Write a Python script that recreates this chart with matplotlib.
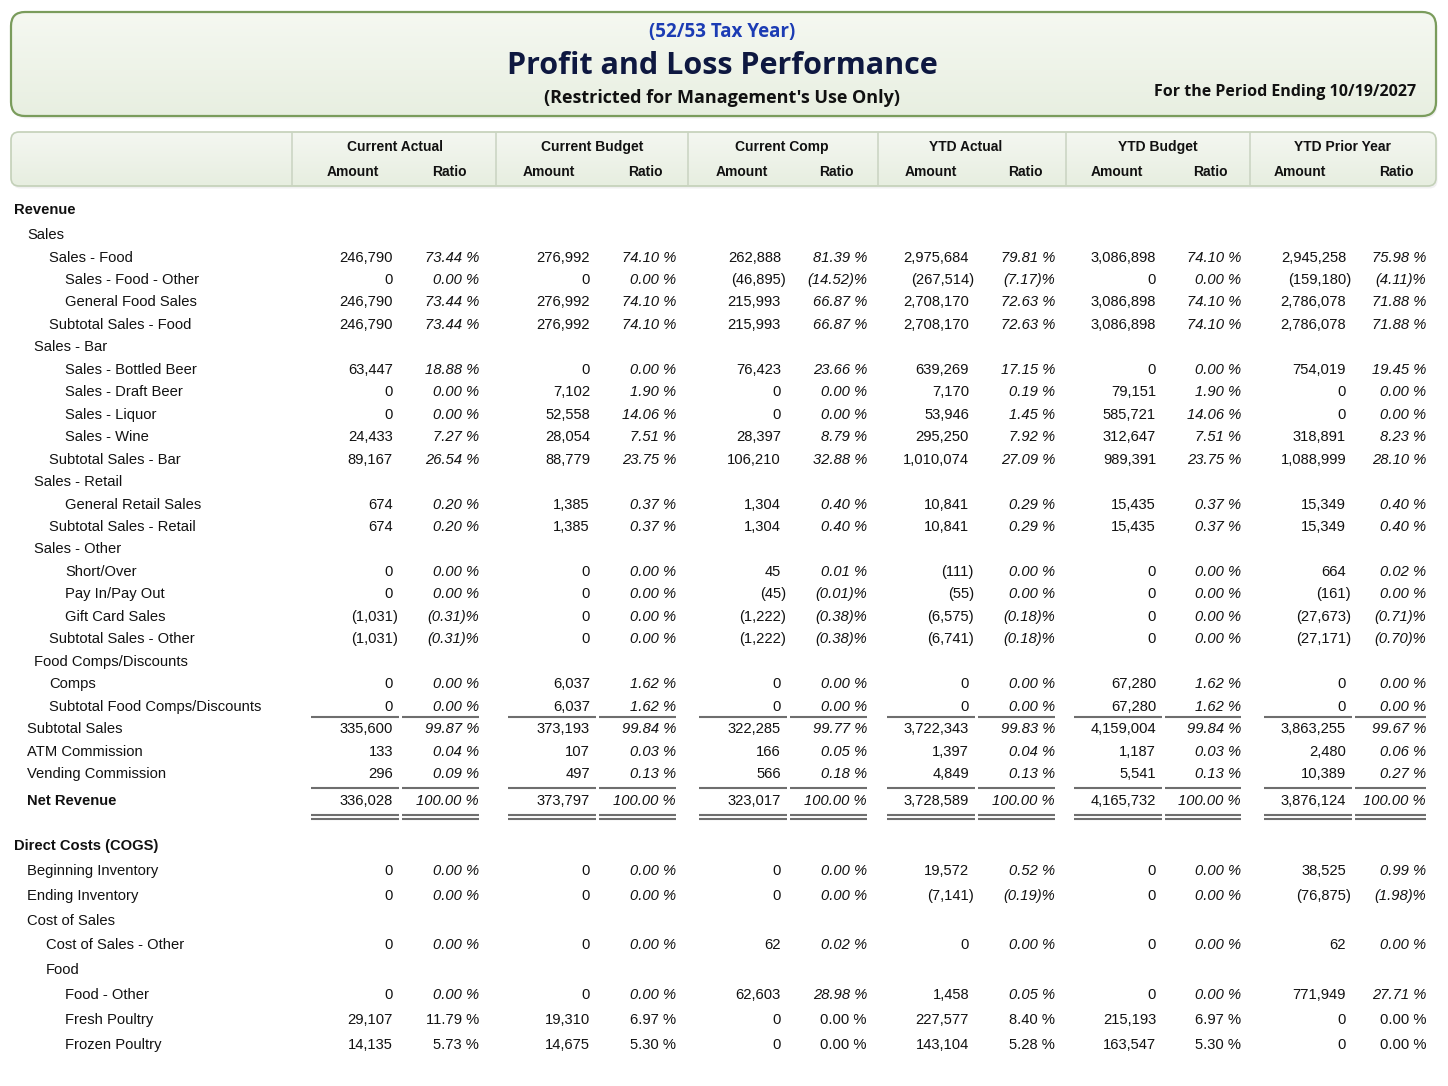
import matplotlib
matplotlib.use("Agg")
import matplotlib.pyplot as plt
from matplotlib.patches import FancyBboxPatch
import numpy as np

# ---------------- data ----------------
N = None

labels = [
    "Revenue", "Sales", "Sales - Food", "Sales - Food - Other", "General Food Sales",
    "Subtotal Sales - Food", "Sales - Bar", "Sales - Bottled Beer", "Sales - Draft Beer",
    "Sales - Liquor", "Sales - Wine", "Subtotal Sales - Bar", "Sales - Retail",
    "General Retail Sales", "Subtotal Sales - Retail", "Sales - Other", "Short/Over",
    "Pay In/Pay Out", "Gift Card Sales", "Subtotal Sales - Other", "Food Comps/Discounts",
    "Comps", "Subtotal Food Comps/Discounts", "Subtotal Sales", "ATM Commission",
    "Vending Commission", "Net Revenue", "Direct Costs (COGS)", "Beginning Inventory",
    "Ending Inventory", "Cost of Sales", "Cost of Sales - Other", "Food", "Food - Other",
    "Fresh Poultry", "Frozen Poultry",
]
levels = [0, 1, 3, 4, 4, 3, 2, 4, 4, 4, 4, 3, 2, 4, 3, 2, 4, 4, 4, 3, 2, 3, 3,
          1, 1, 1, 1, 0, 1, 1, 1, 5, 5, 4, 4, 4]
bold_rows = ["Revenue", "Net Revenue", "Direct Costs (COGS)"]
upright_ratio_rows = ["Fresh Poultry", "Frozen Poultry"]

group_titles = ["Current Actual", "Current Budget", "Current Comp",
                "YTD Actual", "YTD Budget", "YTD Prior Year"]

ca_amt = [N, N, 246790, 0, 246790, 246790, N, 63447, 0, 0, 24433, 89167, N, 674, 674, N,
          0, 0, -1031, -1031, N, 0, 0, 335600, 133, 296, 336028, N, 0, 0, N, 0, N, 0, 29107, 14135]
ca_pct = [N, N, 73.44, 0.00, 73.44, 73.44, N, 18.88, 0.00, 0.00, 7.27, 26.54, N, 0.20, 0.20, N,
          0.00, 0.00, -0.31, -0.31, N, 0.00, 0.00, 99.87, 0.04, 0.09, 100.00, N, 0.00, 0.00, N,
          0.00, N, 0.00, 11.79, 5.73]
cb_amt = [N, N, 276992, 0, 276992, 276992, N, 0, 7102, 52558, 28054, 88779, N, 1385, 1385, N,
          0, 0, 0, 0, N, 6037, 6037, 373193, 107, 497, 373797, N, 0, 0, N, 0, N, 0, 19310, 14675]
cb_pct = [N, N, 74.10, 0.00, 74.10, 74.10, N, 0.00, 1.90, 14.06, 7.51, 23.75, N, 0.37, 0.37, N,
          0.00, 0.00, 0.00, 0.00, N, 1.62, 1.62, 99.84, 0.03, 0.13, 100.00, N, 0.00, 0.00, N,
          0.00, N, 0.00, 6.97, 5.30]
cc_amt = [N, N, 262888, -46895, 215993, 215993, N, 76423, 0, 0, 28397, 106210, N, 1304, 1304, N,
          45, -45, -1222, -1222, N, 0, 0, 322285, 166, 566, 323017, N, 0, 0, N, 62, N, 62603, 0, 0]
cc_pct = [N, N, 81.39, -14.52, 66.87, 66.87, N, 23.66, 0.00, 0.00, 8.79, 32.88, N, 0.40, 0.40, N,
          0.01, -0.01, -0.38, -0.38, N, 0.00, 0.00, 99.77, 0.05, 0.18, 100.00, N, 0.00, 0.00, N,
          0.02, N, 28.98, 0.00, 0.00]
ya_amt = [N, N, 2975684, -267514, 2708170, 2708170, N, 639269, 7170, 53946, 295250, 1010074, N,
          10841, 10841, N, -111, -55, -6575, -6741, N, 0, 0, 3722343, 1397, 4849, 3728589, N,
          19572, -7141, N, 0, N, 1458, 227577, 143104]
ya_pct = [N, N, 79.81, -7.17, 72.63, 72.63, N, 17.15, 0.19, 1.45, 7.92, 27.09, N, 0.29, 0.29, N,
          0.00, 0.00, -0.18, -0.18, N, 0.00, 0.00, 99.83, 0.04, 0.13, 100.00, N, 0.52, -0.19, N,
          0.00, N, 0.05, 8.40, 5.28]
yb_amt = [N, N, 3086898, 0, 3086898, 3086898, N, 0, 79151, 585721, 312647, 989391, N, 15435,
          15435, N, 0, 0, 0, 0, N, 67280, 67280, 4159004, 1187, 5541, 4165732, N, 0, 0, N, 0, N,
          0, 215193, 163547]
yb_pct = [N, N, 74.10, 0.00, 74.10, 74.10, N, 0.00, 1.90, 14.06, 7.51, 23.75, N, 0.37, 0.37, N,
          0.00, 0.00, 0.00, 0.00, N, 1.62, 1.62, 99.84, 0.03, 0.13, 100.00, N, 0.00, 0.00, N,
          0.00, N, 0.00, 6.97, 5.30]
yp_amt = [N, N, 2945258, -159180, 2786078, 2786078, N, 754019, 0, 0, 318891, 1088999, N, 15349,
          15349, N, 664, -161, -27673, -27171, N, 0, 0, 3863255, 2480, 10389, 3876124, N, 38525,
          -76875, N, 62, N, 771949, 0, 0]
yp_pct = [N, N, 75.98, -4.11, 71.88, 71.88, N, 19.45, 0.00, 0.00, 8.23, 28.10, N, 0.40, 0.40, N,
          0.02, 0.00, -0.71, -0.70, N, 0.00, 0.00, 99.67, 0.06, 0.27, 100.00, N, 0.99, -1.98, N,
          0.00, N, 27.71, 0.00, 0.00]

columns = [(ca_amt, ca_pct), (cb_amt, cb_pct), (cc_amt, cc_pct),
           (ya_amt, ya_pct), (yb_amt, yb_pct), (yp_amt, yp_pct)]

# ---------------- layout ----------------
W, H = 1448, 1086
amt_right = [393, 590, 781, 969, 1156, 1346]
pct_right = [479, 676, 867, 1055, 1241, 1426]
group_cx = [395, 592, 782, 966, 1158, 1343]
amt_cx = [353, 549, 742, 931, 1117, 1300]
pct_cx = [449, 645, 836, 1025, 1210, 1396]
separators = [292, 496, 688, 878, 1066, 1250]
indent = {0: 14, 1: 27, 2: 34, 3: 49, 4: 65, 5: 46}

BODY = "Liberation Sans"
TITLE = "Open Sans"
FS = 10.6
DY = 1.2  # baseline nudge for body text


def fmt_amt(v):
    return f"({abs(v):,})" if v < 0 else f"{v:,}"


def fmt_pct(v):
    return f"({abs(v):.2f})%" if v < 0 else f"{v:.2f} %"


fig = plt.figure(figsize=(W / 100, H / 100), dpi=100)
ax = fig.add_axes([0, 0, 1, 1])
ax.set_xlim(0, W)
ax.set_ylim(H, 0)
ax.axis("off")


def gradient_box(x0, y0, x1, y1, r, edge, top, bottom, lw):
    shadow = FancyBboxPatch((x0 + 1.5, y0 + 2.5), x1 - x0, y1 - y0,
                            boxstyle=f"round,pad=0,rounding_size={r}",
                            fc="#000000", ec="none", alpha=0.06, zorder=1)
    ax.add_patch(shadow)
    box = FancyBboxPatch((x0, y0), x1 - x0, y1 - y0,
                         boxstyle=f"round,pad=0,rounding_size={r}",
                         fc="none", ec=edge, lw=lw, zorder=3)
    ax.add_patch(box)
    c0 = np.array(matplotlib.colors.to_rgb(top))
    c1 = np.array(matplotlib.colors.to_rgb(bottom))
    t = np.linspace(0, 1, 64)[:, None, None]
    grad = c0 + (c1 - c0) * t
    grad = np.repeat(grad, 2, axis=1)
    im = ax.imshow(grad, extent=(x0, x1, y1, y0), aspect="auto", zorder=2,
                   interpolation="bilinear")
    im.set_clip_path(box)


# title box
gradient_box(11, 12, 1436, 116, 14, "#7a9c5c", "#f5f8f1", "#e8efe1", 1.6)
ax.text(722, 32, "(52/53 Tax Year)", ha="center", va="center", fontsize=13.5,
        fontweight="bold", color="#1c3cb4", family=TITLE)
ax.text(722, 65.5, "Profit and Loss Performance", ha="center", va="center", fontsize=22,
        fontweight="bold", color="#0e1840", family=TITLE)
ax.text(722, 98, "(Restricted for Management's Use Only)", ha="center", va="center",
        fontsize=13, fontweight="bold", color="#111111", family=TITLE)
ax.text(1416, 92.5, "For the Period Ending 10/19/2027", ha="right", va="center",
        fontsize=11.5, fontweight="bold", color="#111111", family=TITLE)

# column header box
gradient_box(11, 132, 1436, 186, 8, "#c3d0b8", "#f4f7f1", "#e7eee0", 1.2)
for sx in separators:
    ax.plot([sx, sx], [133, 185], color="#c9d3c1", lw=1.1, zorder=4)
for g, title in enumerate(group_titles):
    ax.text(group_cx[g], 146 + DY, title, ha="center", va="center", fontsize=10,
            fontweight="bold", family=BODY, color="#111111", zorder=5)
    ax.text(amt_cx[g], 171 + DY, "Amount", ha="center", va="center", fontsize=10,
            fontweight="bold", family=BODY, color="#111111", zorder=5)
    ax.text(pct_cx[g], 171 + DY, "Ratio", ha="center", va="center", fontsize=10,
            fontweight="bold", family=BODY, color="#111111", zorder=5)

# row positions
ys = []
y = 209.0
step = 22.45
extra_gap = {"Sales": 2.5, "Net Revenue": 4.5, "Direct Costs (COGS)": 22.5}
for i, lab in enumerate(labels):
    if i > 0:
        y += step + extra_gap.get(lab, 0)
    ys.append(y)
    if lab == "Direct Costs (COGS)":
        step = 24.9

# rows
for i, lab in enumerate(labels):
    weight = "bold" if lab in bold_rows else "normal"
    ty = ys[i] + DY
    ax.text(indent[levels[i]], ty, lab, ha="left", va="center", fontsize=FS,
            fontweight=weight, family=BODY, color="#111111")
    for g, (amts, pcts) in enumerate(columns):
        v = amts[i]
        if v is None:
            continue
        xr = amt_right[g] + (5 if v < 0 else 0)
        ax.text(xr, ty, fmt_amt(v), ha="right", va="center", fontsize=FS,
                family=BODY, color="#111111")
        style = "normal" if lab in upright_ratio_rows else "italic"
        ax.text(pct_right[g], ty, fmt_pct(pcts[i]), ha="right", va="center",
                fontsize=FS, family=BODY, style=style, color="#111111")

# underlines: single under subtotal blocks, double under net revenue
i_comp = labels.index("Subtotal Food Comps/Discounts")
i_vend = labels.index("Vending Commission")
i_net = labels.index("Net Revenue")
rules = [ys[i_comp] + 11.5, ys[i_vend] + 15, ys[i_net] + 15.5, ys[i_net] + 19.5]
for yl in rules:
    for g in range(len(columns)):
        ax.plot([amt_right[g] - 82, amt_right[g] + 6], [yl, yl], color="#6e6e6e",
                lw=1.5, solid_capstyle="butt")
        ax.plot([amt_right[g] + 9, pct_right[g]], [yl, yl], color="#6e6e6e",
                lw=1.5, solid_capstyle="butt")

fig.savefig("out.png", dpi=100, facecolor="white")
